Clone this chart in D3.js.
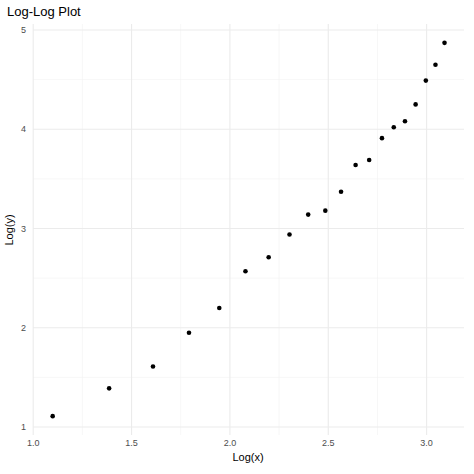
<!DOCTYPE html><html><head><script src="https://cdn.jsdelivr.net/npm/d3@7"></script>
<style>body{margin:0;background:#fff}text{font-family:"Liberation Sans",Arial,sans-serif}</style></head><body>
<svg id="c" width="474" height="474"></svg>
<script>
const xs=[1.099,1.386,1.609,1.792,1.946,2.079,2.197,2.303,2.398,2.485,2.565,2.639,2.708,2.773,2.833,2.890,2.944,2.996,3.045,3.091];
const ys=[1.11,1.39,1.61,1.95,2.20,2.57,2.71,2.94,3.14,3.18,3.37,3.64,3.69,3.91,4.02,4.08,4.25,4.49,4.65,4.87];
const xTicks=[1.0,1.5,2.0,2.5,3.0], yTicks=[1,2,3,4,5];
const svg=d3.select("#c");
const x=d3.scaleLinear().domain([0.999,3.19]).range([33,464]);
const y=d3.scaleLinear().domain([0.92,5.06]).range([435,24]);
const g=svg.append("g");
const xm=[1.25,1.75,2.25,2.75], ym=[1.5,2.5,3.5,4.5];
xm.forEach(v=>g.append("line").attr("x1",x(v)).attr("x2",x(v)).attr("y1",24).attr("y2",435).attr("stroke","#f2f2f2").attr("stroke-width",0.6));
ym.forEach(v=>g.append("line").attr("y1",y(v)).attr("y2",y(v)).attr("x1",33).attr("x2",464).attr("stroke","#f2f2f2").attr("stroke-width",0.6));
xTicks.forEach(v=>g.append("line").attr("x1",x(v)).attr("x2",x(v)).attr("y1",24).attr("y2",435).attr("stroke","#ebebeb").attr("stroke-width",1.1));
yTicks.forEach(v=>g.append("line").attr("y1",y(v)).attr("y2",y(v)).attr("x1",33).attr("x2",464).attr("stroke","#ebebeb").attr("stroke-width",1.1));
xTicks.forEach(v=>svg.append("text").attr("x",x(v)).attr("y",446).attr("text-anchor","middle").attr("font-size",9).attr("fill","#4d4d4d").text(d3.format(".1f")(v)));
yTicks.forEach(v=>svg.append("text").attr("x",26).attr("y",y(v)+3).attr("text-anchor","end").attr("font-size",9).attr("fill","#4d4d4d").text(v));
svg.selectAll("circle").data(xs).join("circle").attr("cx",d=>x(d)).attr("cy",(d,i)=>y(ys[i])).attr("r",2.3).attr("fill","#000");
svg.append("text").attr("x",248).attr("y",461).attr("text-anchor","middle").attr("font-size",11).text("Log(x)");
svg.append("text").attr("transform","translate(13,230) rotate(-90)").attr("text-anchor","middle").attr("font-size",11).text("Log(y)");
svg.append("text").attr("x",7).attr("y",16).attr("font-size",13).text("Log-Log Plot");
</script></body></html>
